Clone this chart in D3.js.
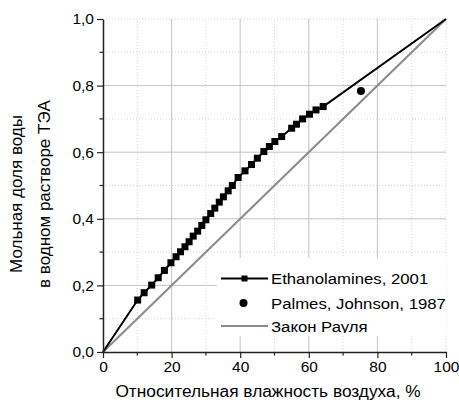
<!DOCTYPE html>
<html>
<head>
<meta charset="utf-8">
<script src="https://cdn.jsdelivr.net/npm/d3@7"></script>
<style>
  body { margin: 0; background: #fff; }
  svg { display: block; }
  text { font-family: "Liberation Sans", Arial, sans-serif; fill: #000; }
</style>
</head>
<body>
<svg id="chart" width="459" height="407"></svg>
<script>
// Ethanolamines, 2001: relative humidity (%) vs. water mole fraction in aqueous TEA
const ethRH = [10.1, 12.0, 14.2, 16.1, 17.9, 19.8, 21.3, 22.6, 23.9, 25.1, 26.3, 27.6,
               28.8, 30.0, 31.4, 32.6, 33.9, 35.1, 36.5, 37.7, 39.4, 41.4, 43.3, 45.0,
               46.9, 48.5, 50.1, 52.1, 55.0, 56.4, 58.2, 60.2, 62.1, 64.2];
const ethX  = [0.156, 0.178, 0.201, 0.223, 0.245, 0.268, 0.286, 0.301, 0.316, 0.331, 0.348, 0.363,
               0.380, 0.397, 0.416, 0.432, 0.450, 0.466, 0.484, 0.500, 0.524, 0.544, 0.563, 0.582,
               0.602, 0.617, 0.632, 0.647, 0.672, 0.684, 0.700, 0.714, 0.727, 0.737];
// the curve is closed at the pure-component limits (no markers there)
const ethEndRH = [0, 100];
const ethEndX  = [0, 1];

// Palmes, Johnson, 1987
const palmesRH = [75.2];
const palmesX  = [0.784];

// Raoult's law (ideal solution)
const raoultRH = [0, 100];
const raoultX  = [0, 1];

const xTicks = [0, 20, 40, 60, 80, 100];
const xMinor = [10, 30, 50, 70, 90];
const yTicks = [0, 0.2, 0.4, 0.6, 0.8, 1.0];
const yMinor = [0.1, 0.3, 0.5, 0.7, 0.9];

const legendLabels = ["Ethanolamines, 2001", "Palmes, Johnson, 1987", "Закон Рауля"];
const xTitle = "Относительная влажность воздуха, %";
const yTitle = ["Мольная доля воды", "в водном растворе ТЭА"];

const svg = d3.select("#chart");
const x = d3.scaleLinear().domain([0, 100]).range([103, 446]);
const y = d3.scaleLinear().domain([0, 1]).range([352, 19]);
const comma = d3.format(".1f");
const fmtY = d => comma(d).replace(".", ",");

svg.append("rect").attr("width", 459).attr("height", 407).attr("fill", "#fff");

// grid
const grid = svg.append("g");
grid.selectAll(".vmin").data(xMinor.concat([100])).join("line")
  .attr("x1", d => x(d)).attr("x2", d => x(d)).attr("y1", y(0)).attr("y2", y(1))
  .attr("stroke", "#d4d4d4").attr("stroke-width", 1).attr("stroke-dasharray", "1,2");
grid.selectAll(".hmin").data(yMinor.concat([1])).join("line")
  .attr("y1", d => y(d)).attr("y2", d => y(d)).attr("x1", x(0)).attr("x2", x(100))
  .attr("stroke", "#d4d4d4").attr("stroke-width", 1).attr("stroke-dasharray", "1,2");
grid.selectAll(".vmaj").data(xTicks.slice(1, -1)).join("line")
  .attr("x1", d => x(d)).attr("x2", d => x(d)).attr("y1", y(0)).attr("y2", y(1))
  .attr("stroke", "#c4c4c4").attr("stroke-width", 1);
grid.selectAll(".hmaj").data(yTicks.slice(1, -1)).join("line")
  .attr("y1", d => y(d)).attr("y2", d => y(d)).attr("x1", x(0)).attr("x2", x(100))
  .attr("stroke", "#c4c4c4").attr("stroke-width", 1);

const line = d3.line().x(d => x(d[0])).y(d => y(d[1]));

// Raoult's law
svg.append("path")
  .datum(raoultRH.map((r, i) => [r, raoultX[i]]))
  .attr("d", line).attr("fill", "none").attr("stroke", "#8a8a8a").attr("stroke-width", 2);

// Ethanolamines curve
const ethPts = ethRH.map((r, i) => [r, ethX[i]]);
const ethCurve = [[ethEndRH[0], ethEndX[0]], ...ethPts, [ethEndRH[1], ethEndX[1]]];
svg.append("path").datum(ethCurve)
  .attr("d", line).attr("fill", "none").attr("stroke", "#000").attr("stroke-width", 2);
const sq = 7;
svg.append("g").selectAll("rect").data(ethPts).join("rect")
  .attr("x", d => x(d[0]) - sq / 2).attr("y", d => y(d[1]) - sq / 2)
  .attr("width", sq).attr("height", sq).attr("fill", "#000");

// Palmes, Johnson
svg.append("g").selectAll("circle").data(palmesRH.map((r, i) => [r, palmesX[i]])).join("circle")
  .attr("cx", d => x(d[0])).attr("cy", d => y(d[1])).attr("r", 4).attr("fill", "#000");

// legend
const lg = svg.append("g");
lg.append("clipPath").attr("id", "lgclip").append("rect")
  .attr("x", 217).attr("y", 258).attr("width", 230).attr("height", 75);
lg.append("rect").attr("x", 217).attr("y", 258).attr("width", 229).attr("height", 78).attr("fill", "#fff");
const lgc = lg.append("g").attr("clip-path", "url(#lgclip)");
const rowY = [278.5, 303, 326];
lgc.append("line").attr("x1", 221).attr("x2", 268).attr("y1", rowY[0]).attr("y2", rowY[0])
  .attr("stroke", "#000").attr("stroke-width", 2);
lgc.append("rect").attr("x", 244.5 - 3).attr("y", rowY[0] - 3)
  .attr("width", 6).attr("height", 6).attr("fill", "#000");
lgc.append("circle").attr("cx", 243.5).attr("cy", rowY[1]).attr("r", 4).attr("fill", "#000");
lgc.append("line").attr("x1", 221).attr("x2", 268).attr("y1", rowY[2]).attr("y2", rowY[2])
  .attr("stroke", "#8a8a8a").attr("stroke-width", 2);
lgc.selectAll("text").data(legendLabels).join("text")
  .attr("transform", (d, i) => `translate(271,${rowY[i] + 5.6}) scale(1.08,1)`)
  .attr("font-size", 15.5).text(d => d);

// axes
const axisColor = "#222";
const xAxis = svg.append("g").attr("transform", `translate(0,${y(0)})`)
  .call(d3.axisBottom(x).tickValues(xTicks).tickSize(6).tickSizeOuter(0).tickPadding(3));
const yAxis = svg.append("g").attr("transform", `translate(${x(0)},0)`)
  .call(d3.axisLeft(y).tickValues(yTicks).tickFormat(fmtY).tickSize(6).tickSizeOuter(0).tickPadding(3));
[xAxis, yAxis].forEach(a => {
  a.select(".domain").attr("stroke", axisColor).attr("stroke-width", 1.5);
  a.selectAll(".tick line").attr("stroke", axisColor).attr("stroke-width", 1.2);
  a.selectAll(".tick text").attr("font-size", 15.5).attr("font-family", "Liberation Sans, Arial, sans-serif").attr("fill", "#000");
});
svg.append("g").selectAll("line").data(xMinor).join("line")
  .attr("x1", d => x(d)).attr("x2", d => x(d)).attr("y1", y(0)).attr("y2", y(0) + 3.5)
  .attr("stroke", axisColor).attr("stroke-width", 1.2);
svg.append("g").selectAll("line").data(yMinor).join("line")
  .attr("y1", d => y(d)).attr("y2", d => y(d)).attr("x1", x(0)).attr("x2", x(0) - 3.5)
  .attr("stroke", axisColor).attr("stroke-width", 1.2);

// titles
svg.append("text").attr("x", 268).attr("y", 397).attr("text-anchor", "middle")
  .attr("font-size", 17.3).text(xTitle);
svg.append("text").attr("transform", "translate(22,194) rotate(-90)")
  .attr("text-anchor", "middle").attr("font-size", 17).text(yTitle[0]);
svg.append("text").attr("transform", "translate(49.5,194) rotate(-90)")
  .attr("text-anchor", "middle").attr("font-size", 17).text(yTitle[1]);
</script>
</body>
</html>
